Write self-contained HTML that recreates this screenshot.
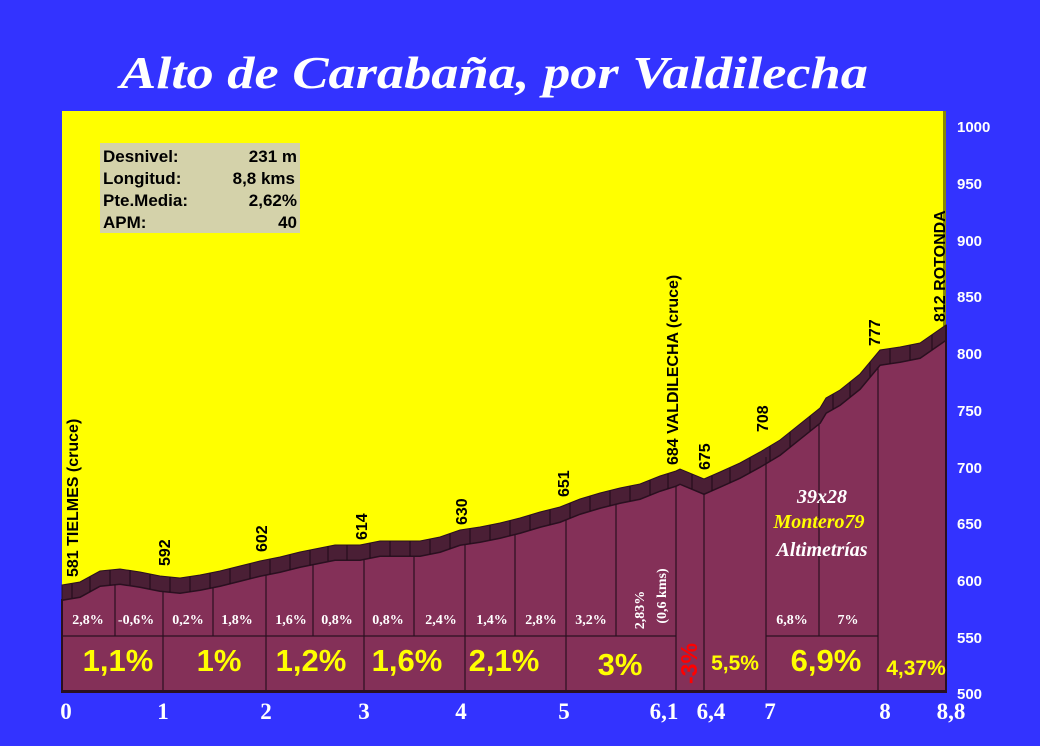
<!DOCTYPE html>
<html><head><meta charset="utf-8"><style>
html,body{margin:0;padding:0;background:#3333ff;}
svg{display:block}
.rl{font-family:"Liberation Sans",sans-serif;font-weight:bold;font-size:16px;fill:#000}
.sp{font-family:"Liberation Serif",serif;font-weight:bold;font-size:14px;fill:#fff}
.bp{font-family:"Liberation Sans",sans-serif;font-weight:bold;font-size:31px;fill:#ffff00}
.xl{font-family:"Liberation Serif",serif;font-weight:bold;font-size:23px;fill:#fff}
.yl{font-family:"Liberation Sans",sans-serif;font-weight:bold;font-size:15px;fill:#fff}
.ib{font-family:"Liberation Sans",sans-serif;font-weight:bold;font-size:17px;fill:#000}
</style></head><body>
<svg width="1040" height="746" viewBox="0 0 1040 746">
<rect width="1040" height="746" fill="#3333ff"/>
<text x="120" y="88" textLength="748" lengthAdjust="spacingAndGlyphs" font-family="Liberation Serif,serif" font-weight="bold" font-style="italic" font-size="46" fill="#fff">Alto de Carabaña, por Valdilecha</text>
<rect x="62" y="111" width="884" height="581" fill="#ffff00"/>
<rect x="943" y="111" width="3" height="215" fill="#888800"/>
<polygon fill="#843058" stroke="#2a1020" stroke-width="2" points="62,600 80,597 100,586 120,584 140,587 160,591 180,593 200,590 220,586 240,581 260,576 280,572 300,567 320,563 335,560 360,560 380,556 400,556 420,556 440,552 460,545 480,542 500,538 520,533 540,527 560,522 580,514 600,508 620,503 640,499 660,491 676,486 680,484 704,494 720,487 740,478 760,467 780,455 800,439 820,423 826,413 840,405 860,389 880,365 900,362 920,358 946,340 946,692 62,692"/>
<polygon fill="#4a1f35" stroke="#2a1020" stroke-width="1" points="62,585 80,582 100,571 120,569 140,572 160,576 180,578 200,575 220,571 240,566 260,561 280,557 300,552 320,548 335,545 360,545 380,541 400,541 420,541 440,537 460,530 480,527 500,523 520,518 540,512 560,507 580,499 600,493 620,488 640,484 660,476 676,471 680,469 704,479 720,472 740,463 760,452 780,440 800,424 820,408 826,398 840,390 860,374 880,350 900,347 920,343 946,325 946,340 920,358 900,362 880,365 860,389 840,405 826,413 820,423 800,439 780,455 760,467 740,478 720,487 704,494 680,484 676,486 660,491 640,499 620,503 600,508 580,514 560,522 540,527 520,533 500,538 480,542 460,545 440,552 420,556 400,556 380,556 360,560 335,560 320,563 300,567 280,572 260,576 240,581 220,586 200,590 180,593 160,591 140,587 120,584 100,586 80,597 62,600"/>
<g stroke="#1e0a16" stroke-width="1">
<line x1="72" y1="584" x2="72" y2="598"/><line x1="90" y1="577" x2="90" y2="592"/><line x1="110" y1="570" x2="110" y2="585"/><line x1="130" y1="570" x2="130" y2="585"/><line x1="150" y1="574" x2="150" y2="589"/><line x1="170" y1="577" x2="170" y2="592"/><line x1="190" y1="577" x2="190" y2="592"/><line x1="210" y1="573" x2="210" y2="588"/><line x1="230" y1="569" x2="230" y2="584"/><line x1="250" y1="564" x2="250" y2="579"/><line x1="270" y1="559" x2="270" y2="574"/><line x1="290" y1="555" x2="290" y2="570"/><line x1="310" y1="550" x2="310" y2="565"/><line x1="328" y1="546" x2="328" y2="561"/><line x1="347" y1="545" x2="347" y2="560"/><line x1="370" y1="543" x2="370" y2="558"/><line x1="390" y1="541" x2="390" y2="556"/><line x1="410" y1="541" x2="410" y2="556"/><line x1="430" y1="539" x2="430" y2="554"/><line x1="450" y1="534" x2="450" y2="549"/><line x1="470" y1="529" x2="470" y2="544"/><line x1="490" y1="525" x2="490" y2="540"/><line x1="510" y1="521" x2="510" y2="536"/><line x1="530" y1="515" x2="530" y2="530"/><line x1="550" y1="510" x2="550" y2="525"/><line x1="570" y1="503" x2="570" y2="518"/><line x1="590" y1="496" x2="590" y2="511"/><line x1="610" y1="491" x2="610" y2="506"/><line x1="630" y1="486" x2="630" y2="501"/><line x1="650" y1="480" x2="650" y2="495"/><line x1="668" y1="474" x2="668" y2="489"/><line x1="692" y1="474" x2="692" y2="489"/><line x1="712" y1="476" x2="712" y2="491"/><line x1="730" y1="468" x2="730" y2="483"/><line x1="750" y1="458" x2="750" y2="473"/><line x1="770" y1="446" x2="770" y2="461"/><line x1="790" y1="432" x2="790" y2="447"/><line x1="810" y1="416" x2="810" y2="431"/><line x1="833" y1="394" x2="833" y2="409"/><line x1="850" y1="382" x2="850" y2="397"/><line x1="870" y1="362" x2="870" y2="377"/><line x1="890" y1="349" x2="890" y2="364"/><line x1="910" y1="345" x2="910" y2="360"/><line x1="932" y1="335" x2="932" y2="350"/>
</g>
<g stroke="#2a1020" stroke-width="1.2">
<line x1="115" y1="584" x2="115" y2="636"/><line x1="163" y1="591" x2="163" y2="692"/>
<line x1="213" y1="588" x2="213" y2="636"/><line x1="266" y1="575" x2="266" y2="692"/>
<line x1="313" y1="564" x2="313" y2="636"/><line x1="364" y1="559" x2="364" y2="692"/>
<line x1="414" y1="556" x2="414" y2="636"/><line x1="465" y1="544" x2="465" y2="692"/>
<line x1="515" y1="535" x2="515" y2="636"/><line x1="566" y1="520" x2="566" y2="692"/>
<line x1="616" y1="504" x2="616" y2="636"/><line x1="676" y1="486" x2="676" y2="692"/>
<line x1="704" y1="494" x2="704" y2="692"/><line x1="766" y1="457" x2="766" y2="692"/>
<line x1="819" y1="424" x2="819" y2="636"/><line x1="878" y1="367" x2="878" y2="692"/>
<line x1="62" y1="636" x2="676" y2="636"/><line x1="766" y1="636" x2="878" y2="636"/>
</g>
<rect x="62" y="690" width="884" height="3" fill="#2a1020"/>
<rect x="945" y="325" width="2" height="368" fill="#2a1020"/>
<rect x="100" y="143" width="200" height="90" fill="#d4d2aa"/>
<text class="ib" x="103" y="162">Desnivel:</text><text class="ib" x="297" y="162" text-anchor="end">231 m</text>
<text class="ib" x="103" y="184">Longitud:</text><text class="ib" x="295" y="184" text-anchor="end">8,8 kms</text>
<text class="ib" x="103" y="206">Pte.Media:</text><text class="ib" x="297" y="206" text-anchor="end">2,62%</text>
<text class="ib" x="103" y="228">APM:</text><text class="ib" x="297" y="228" text-anchor="end">40</text>
<text class="rl" transform="translate(78,577) rotate(-90)">581 TIELMES (cruce)</text>
<text class="rl" transform="translate(170,566) rotate(-90)">592</text>
<text class="rl" transform="translate(267,552) rotate(-90)">602</text>
<text class="rl" transform="translate(367,540) rotate(-90)">614</text>
<text class="rl" transform="translate(467,525) rotate(-90)">630</text>
<text class="rl" transform="translate(569,497) rotate(-90)">651</text>
<text class="rl" transform="translate(678,465) rotate(-90)">684 VALDILECHA (cruce)</text>
<text class="rl" transform="translate(710,470) rotate(-90)">675</text>
<text class="rl" transform="translate(768,432) rotate(-90)">708</text>
<text class="rl" transform="translate(880,346) rotate(-90)">777</text>
<text class="rl" transform="translate(945,322) rotate(-90)">812  ROTONDA</text>
<g class="sp" text-anchor="middle">
<text x="88" y="624">2,8%</text><text x="136" y="624">-0,6%</text><text x="188" y="624">0,2%</text>
<text x="237" y="624">1,8%</text><text x="291" y="624">1,6%</text><text x="337" y="624">0,8%</text>
<text x="388" y="624">0,8%</text><text x="441" y="624">2,4%</text><text x="492" y="624">1,4%</text>
<text x="541" y="624">2,8%</text><text x="591" y="624">3,2%</text>
<text x="792" y="624">6,8%</text><text x="848" y="624">7%</text>
<text transform="translate(644,610) rotate(-90)">2,83%</text>
<text transform="translate(666,596) rotate(-90)">(0,6 kms)</text>
</g>
<g class="bp" text-anchor="middle">
<text x="118" y="671">1,1%</text><text x="219" y="671">1%</text><text x="311" y="671">1,2%</text>
<text x="407" y="671">1,6%</text><text x="504" y="671">2,1%</text><text x="620" y="675">3%</text>
<text x="826" y="671">6,9%</text>
</g>
<text x="735" y="670" text-anchor="middle" font-family="Liberation Sans,sans-serif" font-weight="bold" font-size="21" fill="#ffff00">5,5%</text>
<text x="916" y="675" text-anchor="middle" font-family="Liberation Sans,sans-serif" font-weight="bold" font-size="21" fill="#ffff00">4,37%</text>
<text transform="translate(697,684) rotate(-90)" font-family="Liberation Sans,sans-serif" font-weight="bold" font-size="23" fill="#ff0000">-3%</text>
<g font-family="Liberation Serif,serif" font-weight="bold" font-style="italic" text-anchor="middle">
<text x="822" y="503" font-size="20" fill="#fff">39x28</text>
<text x="819" y="528" font-size="20" fill="#ffff00">Montero79</text>
<text x="822" y="556" font-size="20" fill="#fff">Altimetrías</text>
</g>
<g class="xl" text-anchor="middle">
<text x="66" y="719">0</text><text x="163" y="719">1</text><text x="266" y="719">2</text>
<text x="364" y="719">3</text><text x="461" y="719">4</text><text x="564" y="719">5</text>
<text x="664" y="719">6,1</text><text x="711" y="719">6,4</text><text x="770" y="719">7</text>
<text x="885" y="719">8</text><text x="951" y="719">8,8</text>
</g>
<g class="yl">
<text x="957" y="132">1000</text><text x="957" y="189">950</text><text x="957" y="246">900</text>
<text x="957" y="302">850</text><text x="957" y="359">800</text><text x="957" y="416">750</text>
<text x="957" y="473">700</text><text x="957" y="529">650</text><text x="957" y="586">600</text>
<text x="957" y="643">550</text><text x="957" y="699">500</text>
</g>
</svg>
</body></html>
